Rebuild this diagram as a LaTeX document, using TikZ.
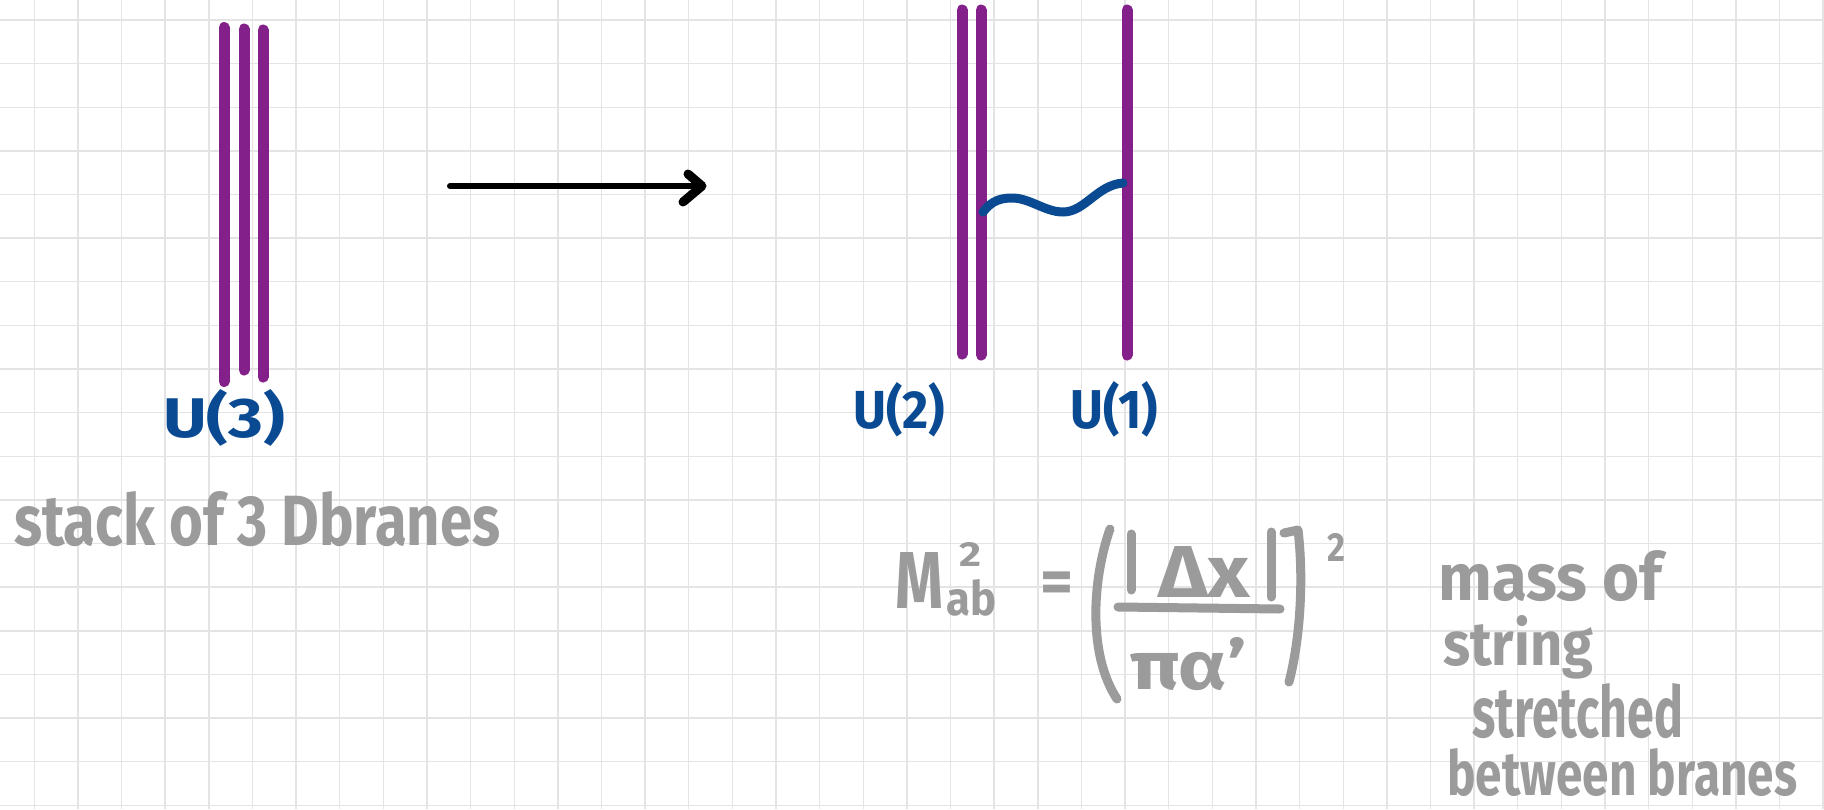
\documentclass[tikz,border=0pt]{standalone}
\usepackage{fontspec}
\setmainfont{Fira Sans}
\usepackage{graphicx}
\definecolor{gridgray}{HTML}{E4E4E4}
\definecolor{brpurple}{HTML}{84208A}
\definecolor{strblue}{HTML}{0A4A92}
\definecolor{notegray}{HTML}{9B9B9B}
\begin{document}
\begin{tikzpicture}[x=1pt,y=-1pt,
  gridline/.style={draw=gridgray,line width=1.4pt},
  brane/.style={draw=brpurple,line width=11pt,line cap=round},
  strline/.style={draw=strblue,line width=9pt,line cap=round},
  arrowline/.style={draw=black,line width=6pt,line cap=round,line join=round},
  blabel/.style={text=strblue,inner sep=0pt,font=\bfseries},
  note/.style={text=notegray,inner sep=0pt,font=\bfseries},
  penstroke/.style={draw=notegray,line width=9pt,line cap=round,line join=round},
]
\useasboundingbox (0,0) rectangle (1824,809);
\fill[white] (0,0) rectangle (1824,809);
% grid
\foreach \i in {0,...,41} \draw[gridline] ({34.3+\i*43.63},0) -- ({34.3+\i*43.63},809);
\foreach \j in {0,...,18} \draw[gridline] (0,{20+\j*43.63}) -- (1824,{20+\j*43.63});
% stack of three branes
\draw[brane] (224,27.5) -- (224,381.5);
\draw[brane] (244,29) -- (244,370);
\draw[brane] (263,30) -- (263,377);
% separated branes
\draw[brane] (962,10) -- (962,354);
\draw[brane] (981,10) -- (981,355);
\draw[brane] (1127,10) -- (1127,355);
% arrow
\coordinate (astart) at (450,186);
\coordinate (aend) at (700,186);
\draw[arrowline] (astart) -- (aend);
\draw[arrowline,line width=9pt] ([shift={(-12,-12)}]aend) -- ([shift={(2,0)}]aend) -- ([shift={(-17,16)}]aend);
% string
\coordinate (w1) at (983,212);
\coordinate (w2) at (1123,183);
\draw[strline] (w1) .. controls (992,200) and (1002,198) .. (1012,198)
  .. controls (1030,198) and (1045,212) .. (1063,212)
  .. controls (1085,212) and (1097,185) .. (w2);
% blue labels
\node[blabel,anchor=base west] (u3) at (163,437) {\resizebox{122pt}{48pt}{U(3)}};
\node[blabel,anchor=base west] (u2) at (853,428) {\resizebox{92pt}{46pt}{U(2)}};
\node[blabel,anchor=base west] (u1) at (1070,428) {\resizebox{88pt}{47pt}{U(1)}};
% gray notes
\node[note,anchor=base west] (stack) at (14,545) {\resizebox{486pt}{54pt}{stack of 3 Dbranes}};
% formula
\node[note,anchor=base west] (m) at (895,608) {\resizebox{48pt}{56pt}{M}};
\node[note,anchor=base west] (ab) at (946,615) {\resizebox{50pt}{36pt}{ab}};
\node[note,anchor=base west] (sq1) at (959,566) {\resizebox{22pt}{24pt}{2}};
\node[note] (eq) at (1057,588) {\resizebox{33pt}{!}{=}};
\draw[penstroke] (1110,529) .. controls (1092,580) and (1088,655) .. (1117,699);
\draw[penstroke] (1284,533) -- (1298,530) .. controls (1304,580) and (1300,640) .. (1289,682);
\coordinate (barl) at (1118,607);
\coordinate (barr) at (1280,609);
\draw[penstroke] (barl) -- (barr);
\draw[penstroke] (1131,534) -- (1131,590);
\draw[penstroke] (1271,532) -- (1271,597);
\node[note,anchor=base west] (dx) at (1158,597) {\resizebox{92pt}{51pt}{Δx}};
\node[note,anchor=base west] (pa) at (1130,689) {\resizebox{117pt}{52pt}{πα'}};
\node[note,anchor=base west] (sq2) at (1327,561) {\resizebox{18pt}{28pt}{2}};
% right note
\node[note,anchor=base west] (l1) at (1438,600) {\resizebox{224pt}{50pt}{mass of}};
\node[note,anchor=base west] (l2) at (1443,665) {\resizebox{150pt}{50pt}{string}};
\node[note,anchor=base west] (l3) at (1472,737) {\resizebox{211pt}{54pt}{stretched}};
\node[note,anchor=base west] (l4) at (1447,795) {\resizebox{350pt}{47pt}{between branes}};
\end{tikzpicture}
\end{document}
